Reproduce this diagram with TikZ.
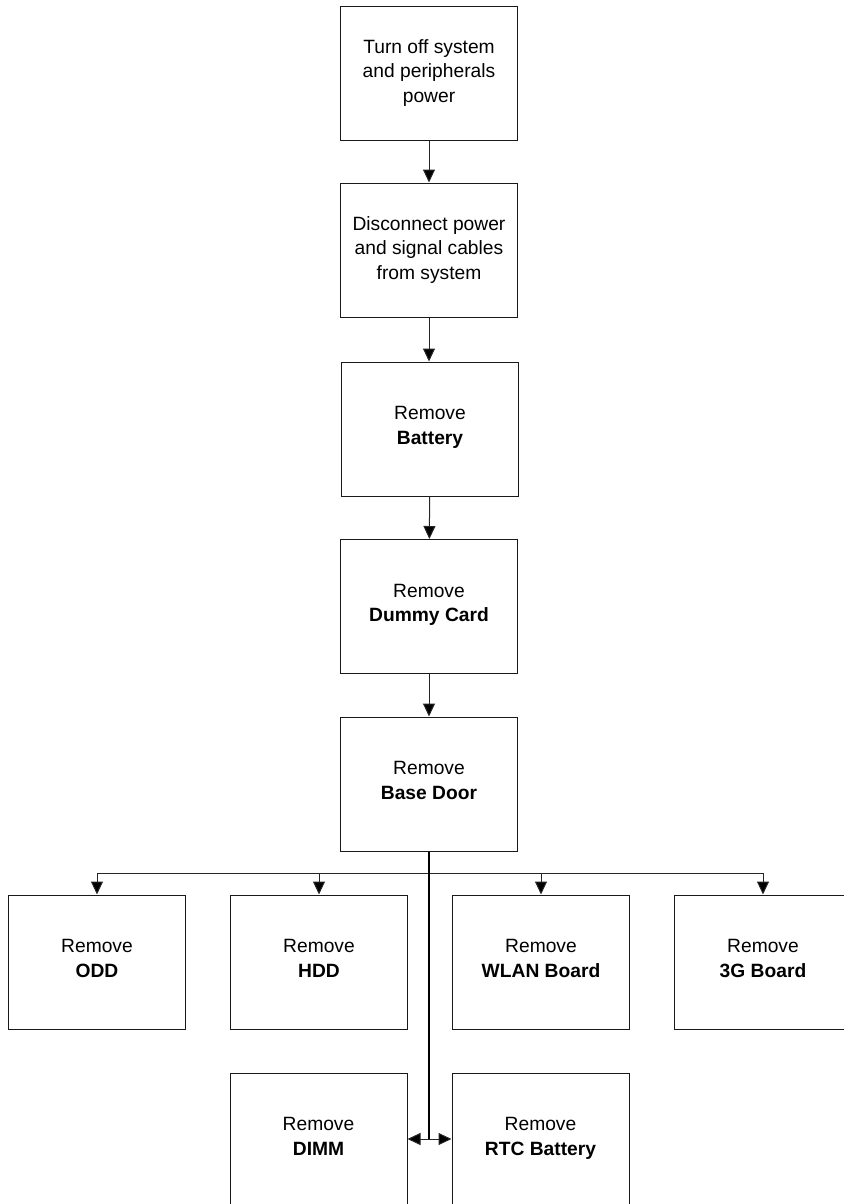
\documentclass[tikz,border=0pt]{standalone}
\usepackage{fontspec}
\setmainfont{Liberation Sans}
\usetikzlibrary{arrows.meta}
\begin{document}
\begin{tikzpicture}[x=1bp,y=-1bp,
  stepbox/.style={draw=black!90, line width=1bp, minimum width=177bp, minimum height=134bp,
    inner sep=2bp, align=center, font=\fontsize{19.3}{24.5}\selectfont},
  conn/.style={draw=black!85, line width=1bp},
  arr/.style={conn, -{Triangle[length=13bp,width=12bp,fill=black]}}]
\useasboundingbox (0,0) rectangle (844,1204);
\clip (0,0) rectangle (844,1204);
\node[stepbox] (off) at (429,73) {Turn off system\\and peripherals\\power};
\node[stepbox] (disc) at (429,250) {Disconnect power\\and signal cables\\from system};
\node[stepbox] (batt) at (430,429) {Remove\\\textbf{Battery}\strut};
\node[stepbox] (dummy) at (429,606.5) {Remove\\\textbf{Dummy Card}\strut};
\node[stepbox] (base) at (429,784) {Remove\\\textbf{Base Door}\strut};
\node[stepbox] (odd) at (97,962) {Remove\\\textbf{ODD}\strut};
\node[stepbox] (hdd) at (319,962) {Remove\\\textbf{HDD}\strut};
\node[stepbox] (wlan) at (541,962) {Remove\\\textbf{WLAN Board}\strut};
\node[stepbox] (g3) at (763,962) {Remove\\\textbf{3G Board}\strut};
\node[stepbox] (dimm) at (318.5,1140) {Remove\\\textbf{DIMM}\strut};
\node[stepbox] (rtc) at (540.5,1140) {Remove\\\textbf{RTC Battery}\strut};
\draw[arr] (off) -- (disc);
\draw[arr] (disc) -- (batt.north -| disc.south);
\draw[arr] (batt) -- (dummy);
\draw[arr] (dummy) -- (base);
\coordinate (bus) at (429,873);
\coordinate (junc) at (429,1139);
\draw[conn] (odd.north |- bus) -- (g3.north |- bus);
\draw[conn, draw=black, line width=1.4bp] (base.south) -- (junc);
\draw[arr] (odd.north |- bus) -- (odd.north);
\draw[arr] (hdd.north |- bus) -- (hdd.north);
\draw[arr] (wlan.north |- bus) -- (wlan.north);
\draw[arr] (g3.north |- bus) -- (g3.north);
\draw[arr] (junc) -- (dimm.east |- junc);
\draw[arr] (junc) -- (rtc.west |- junc);
\end{tikzpicture}
\end{document}
